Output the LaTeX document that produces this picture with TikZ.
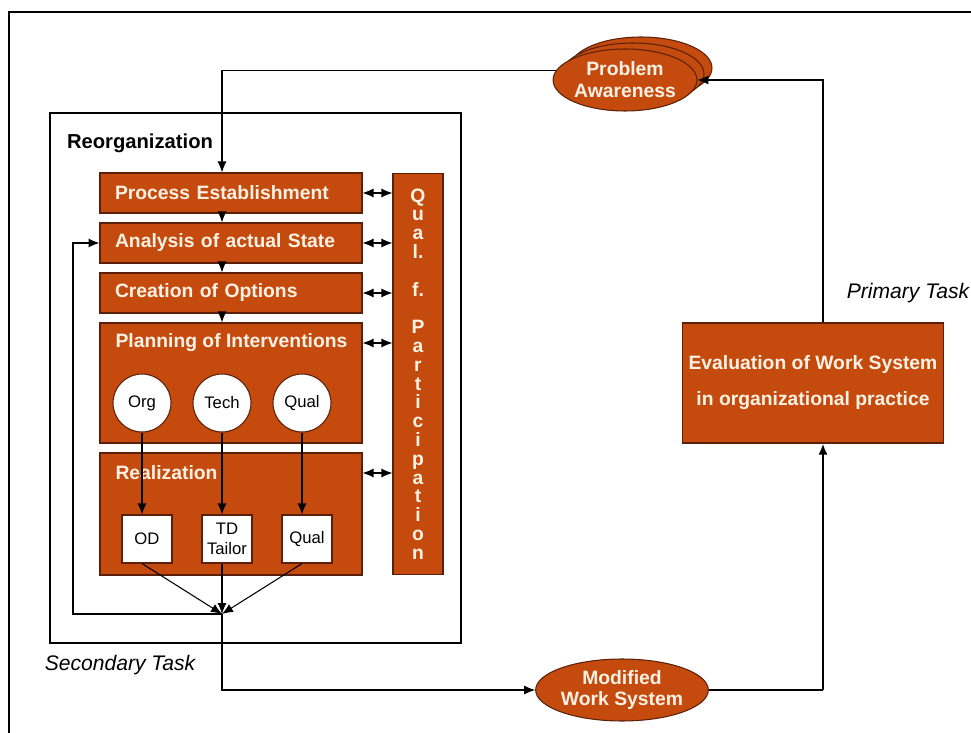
\documentclass[tikz,border=0pt]{standalone}
\usepackage{fontspec}
\setmainfont{Liberation Sans}
\usetikzlibrary{shapes.geometric,arrows.meta}
\definecolor{rust}{RGB}{196,74,14}
\definecolor{rustline}{RGB}{90,32,10}
\definecolor{cream}{RGB}{255,242,228}
\tikzset{
  stagebox/.style={draw=rustline, fill=rust, text=cream, font=\bfseries\fontsize{11}{13}\selectfont,
    minimum width=5.24cm, minimum height=0.8cm, text width=4.64cm, inner xsep=0.3cm, align=left},
  stagetitle/.style={text=cream, font=\bfseries\fontsize{11}{13}\selectfont, anchor=west, inner sep=0pt},
  partbar/.style={draw=rustline, fill=rust, text=cream, font=\bfseries\fontsize{11}{10.7}\selectfont,
    minimum width=1cm, minimum height=8.04cm, inner sep=0pt, align=center},
  circ/.style={circle, draw=rustline, fill=white, minimum size=1.16cm, inner sep=0pt, font=\fontsize{9.5}{11}\selectfont},
  sq/.style={draw=rustline, fill=white, minimum width=1cm, minimum height=0.96cm, inner sep=0pt,
    align=center, font=\fontsize{9.5}{11}\selectfont},
  oval/.style={ellipse, draw=rustline, fill=rust, text=cream, minimum width=2.84cm, minimum height=1.24cm,
    inner sep=0pt, align=center, font=\bfseries\fontsize{11}{12.5}\selectfont},
  evalbox/.style={draw=rustline, fill=rust, text=cream, minimum width=5.2cm, minimum height=2.4cm,
    align=center, font=\bfseries\fontsize{11}{20.5}\selectfont},
  tasklabel/.style={font=\itshape\fontsize{12}{14}\selectfont, inner sep=0pt},
}
\begin{document}
\begin{tikzpicture}[x=0.02cm, y=-0.02cm, >={Latex[length=2.2mm,width=1.8mm]}, line width=0.6pt]
  \useasboundingbox (0,0) rectangle (971,733);
  % frames
  \draw[line width=1pt] (9,733) -- (9,12) -- (971,12);
  \draw (50,113) rectangle (461,643);
  \node[font=\bfseries\fontsize{11.5}{13}\selectfont, inner sep=0pt] (reorg) at (140,143) {Reorganization};

  % problem awareness
  \node[oval] (pa3) at (641,68) {};
  \node[oval] (pa2) at (633,74) {};
  \node[oval] (pa) at (625,80) {Problem\\Awareness};

  % reorganization steps
  \node[stagebox] (pe) at (231,193) {Process Establishment};
  \node[stagebox] (as) at (231,243) {Analysis of actual State};
  \node[stagebox] (co) at (231,293) {Creation of Options};
  \node[stagebox, minimum height=2.4cm] (pi) at (231,383) {};
  \node[stagetitle] (pit) at (115,343) {Planning of Interventions};
  \node[stagebox, minimum height=2.44cm] (re) at (231,514) {};
  \node[stagetitle] (ret) at (115,473) {Realization};
  \node[partbar] (qp) at (418,374) {Q\\u\\a\\l.\\~\\f.\\~\\P\\a\\r\\t\\i\\c\\i\\p\\a\\t\\i\\o\\n};

  \node[circ] (org) at (142,403) {Org};
  \node[circ] (tech) at (222,403) {Tech};
  \node[circ] (qual) at (302,403) {Qual};
  \node[sq] (od) at (147,539) {OD};
  \node[sq] (td) at (227,539) {TD\\Tailor};
  \node[sq] (ql) at (307,539) {Qual};
  \coordinate (j) at (222,614);
  \coordinate (fb) at (73,614);

  % primary task
  \node[oval] (mw) at (622,690) {Modified\\Work System};
  \node[evalbox] (ev) at (813,383) {Evaluation of Work System\\in organizational practice};
  \coordinate (up) at ([xshift=0.2cm]ev.north);
  \coordinate (turn) at (mw.east -| up);
  \node[tasklabel] (primary) at (908,293) {Primary Task};
  \node[tasklabel] (secondary) at (120,665) {Secondary Task};

  % connectors
  \draw[->] (pa.172) -| (tech |- pe.north);
  \draw[->] (tech |- pe.south) -- (tech |- as.north);
  \draw[->] (tech |- as.south) -- (tech |- co.north);
  \draw[->] (tech |- co.south) -- (tech |- pi.north);
  \foreach \n in {pe,as,co,pit,ret}
    \draw[<->] (\n -| pi.east) -- (\n -| qp.west);
  \foreach \c/\s in {org/od,tech/td,qual/ql} {
    \draw[->] (\c.south) -- (\c.south |- \s.north);
    \draw[->] (\c |- \s.south) -- (j);
  }
  \draw[->] (j) -- (fb) |- (as.west);
  \draw[->] (j) |- (mw.west);
  \draw (mw.east) -- (turn);
  \draw[->, line width=1.3pt] (turn) -- (up |- ev.south);
  \draw[->] (up) |- (pa.east);
\end{tikzpicture}
\end{document}
